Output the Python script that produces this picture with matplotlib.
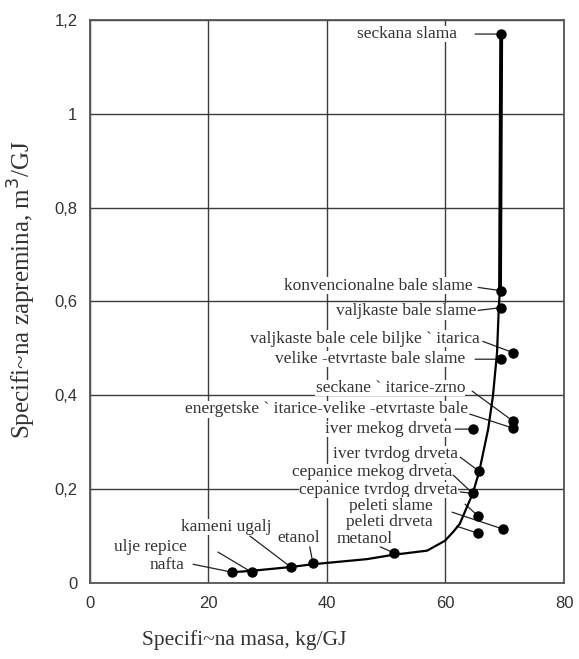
import matplotlib
matplotlib.use("Agg")
import matplotlib.pyplot as plt

# fuels: specific mass (kg/GJ) and specific volume (m3/GJ)
fuels = ["seckana slama", "konvencionalne bale slame", "valjkaste bale slame",
         "valjkaste bale cele biljke ` itarica", "velike -etvrtaste bale slame",
         "seckane ` itarice-zrno", "energetske ` itarice-velike -etvrtaste bale",
         "iver mekog drveta", "iver tvrdog drveta", "cepanice mekog drveta",
         "cepanice tvrdog drveta", "peleti slame", "peleti drveta",
         "metanol", "etanol", "kameni ugalj", "ulje repice", "nafta"]
mass = [69.4, 69.4, 69.4, 71.4, 69.4, 71.4, 71.4, 64.6, 65.7, 64.6,
        65.5, 69.7, 65.5, 51.3, 37.6, 33.9, 27.3, 24.0]
volume = [1.170, 0.623, 0.587, 0.491, 0.477, 0.345, 0.330, 0.328, 0.238, 0.191,
          0.143, 0.115, 0.106, 0.064, 0.043, 0.034, 0.023, 0.023]

# trend curve
curve_x = [24.0, 27.3, 33.8, 37.6, 46.8, 51.1, 56.9, 59.9, 61.3, 62.4,
           64.6, 65.7, 67.2, 68.0, 68.7, 69.0, 69.2]
curve_y = [0.023, 0.026, 0.034, 0.040, 0.051, 0.060, 0.069, 0.090, 0.109, 0.126,
           0.191, 0.238, 0.328, 0.398, 0.491, 0.589, 0.626]
top_x = [69.2, 69.4]
top_y = [0.626, 1.170]

xticks = [0, 20, 40, 60, 80]
yticks = [0, 0.2, 0.4, 0.6, 0.8, 1.0, 1.2]
yticklabels = ["0", "0,2", "0,4", "0,6", "0,8", "1", "1,2"]

# label layout (right edge of text, centre) and leader start
text_x = [61.9, 64.6, 65.2, 65.8, 63.3, 63.3, 63.8, 61.1, 62.1, 61.1,
          62.1, 57.9, 57.9, 51.1, 38.8, 30.7, 16.4, 16.0]
text_y = [1.170, 0.634, 0.579, 0.521, 0.477, 0.415, 0.370, 0.328, 0.274, 0.236,
          0.198, 0.165, 0.131, 0.093, 0.095, 0.119, 0.076, 0.038]
lead_x = [65.0, 65.5, 65.5, 66.3, 65.0, 64.5, 64.1, 61.6, 62.5, 61.3,
          63.3, 61.1, 61.9, 49.0, 37.1, 27.0, 21.6, 17.4]
lead_y = [1.170, 0.630, 0.581, 0.515, 0.477, 0.409, 0.360, 0.328, 0.268, 0.230,
          0.168, 0.151, 0.121, 0.077, 0.077, 0.100, 0.066, 0.040]

txt = "#333333"
fig = plt.figure(figsize=(5.79, 6.59), dpi=100)
ax = fig.add_axes([0.1554, 0.1153, 0.8187, 0.8544])

ax.set_xlim(0, 80)
ax.set_ylim(0, 1.2)
ax.set_xticks(xticks)
ax.set_yticks(yticks)
ax.set_yticklabels(yticklabels)
ax.tick_params(length=0, pad=9, labelsize=12, labelcolor=txt)
for lab in ax.get_xticklabels() + ax.get_yticklabels():
    lab.set_family("Liberation Sans")
ax.set_axisbelow(True)
ax.grid(True, color="#3c3c3c", lw=1.0)
for sp in ax.spines.values():
    sp.set_color("#555555")
    sp.set_linewidth(1.3)

ax.plot(curve_x, curve_y, color="black", lw=1.6, zorder=4)
ax.plot(top_x, top_y, color="black", lw=2.8, zorder=4)
ax.plot(mass, volume, "o", color="black", ms=6.5, zorder=5)

for i, name in enumerate(fuels):
    ax.text(text_x[i], text_y[i], name, ha="right", va="center",
            family="Liberation Serif", fontsize=12.5, color=txt, zorder=3,
            bbox=dict(facecolor="white", edgecolor="none", pad=0.1))
    ax.annotate("", xy=(mass[i], volume[i]), xytext=(lead_x[i], lead_y[i]),
                arrowprops=dict(arrowstyle="-", color="#222222", lw=0.9,
                                shrinkA=0, shrinkB=0), zorder=3.5)
# second leader of "cepanice tvrdog drveta"
ax.annotate("", xy=(mass[9], volume[9]), xytext=(62.5, 0.194),
            arrowprops=dict(arrowstyle="-", color="#222222", lw=0.9,
                            shrinkA=0, shrinkB=0), zorder=3.5)

fig.text(0.421, 0.029, "Specifi~na masa, kg/GJ", ha="center", va="center",
         family="Liberation Serif", fontsize=15.5, color=txt)
fig.text(0.038, 0.56, "Specifi~na zapremina, m$^3$/GJ", ha="center", va="center",
         rotation=90, family="Liberation Serif", fontsize=18, color=txt)

fig.savefig("out.png", dpi=100)
